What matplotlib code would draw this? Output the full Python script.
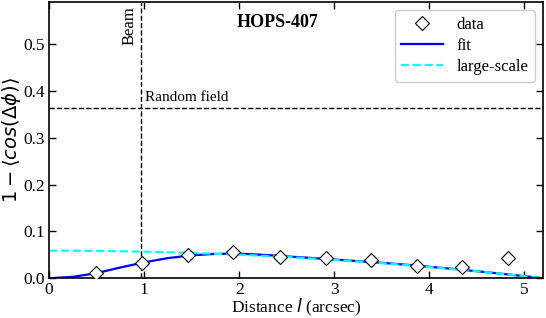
import numpy as np
import matplotlib
matplotlib.use('Agg')
import matplotlib.pyplot as plt

plt.rcParams['font.family'] = 'Liberation Serif'
plt.rcParams['mathtext.fontset'] = 'dejavusans'

# data points
l_data = [0.49, 0.98, 1.46, 1.94, 2.43, 2.91, 3.39, 3.87, 4.35, 4.83]
y_data = [0.012, 0.033, 0.050, 0.055, 0.046, 0.043, 0.038, 0.027, 0.025, 0.043]

# fit curve
l_fit = [0.0, 0.25, 0.5, 0.75, 1.0, 1.25, 1.5, 1.75, 2.0, 2.25, 2.5, 2.75,
         3.0, 3.25, 3.5, 3.75, 4.0, 4.25, 4.5, 4.75, 5.0, 5.2]
y_fit = [0.0, 0.003, 0.011, 0.023, 0.034, 0.043, 0.049, 0.052, 0.0525, 0.050,
         0.0465, 0.0435, 0.040, 0.0365, 0.033, 0.029, 0.0245, 0.020, 0.015,
         0.0098, 0.0045, 0.0]

# large-scale component
l_ls = [0.0, 0.5, 1.0, 1.5, 2.0, 2.5, 3.0, 3.5, 4.0, 4.5, 5.0, 5.2]
y_ls = [0.059, 0.0585, 0.0568, 0.0541, 0.0503, 0.0454, 0.0394, 0.0323,
        0.0241, 0.0149, 0.0045, 0.0]

beam = 0.97
random_field = 0.363

fig = plt.figure(figsize=(5.46, 3.18), dpi=100)
ax = fig.add_axes([0.09, 0.125, 0.905, 0.869])

ax.plot(l_data, y_data, linestyle='none', marker='D', markersize=7,
        markerfacecolor='white', markeredgecolor='black', markeredgewidth=0.8,
        label='data', zorder=5)
ax.plot(l_fit, y_fit, color='blue', lw=1.6, label='fit')
ax.plot(l_ls, y_ls, color='cyan', lw=1.6, ls='--', label='large-scale')

ax.axvline(beam, color='black', ls='--', lw=1)
ax.axhline(random_field, color='black', ls='--', lw=1)
ax.text(beam - 0.04, 0.58, 'Beam', rotation=90, ha='right', va='top', fontsize=12)
ax.text(beam + 0.04, random_field + 0.008, 'Random field', ha='left', va='bottom', fontsize=11)
ax.text(2.4, 0.545, 'HOPS-407', ha='center', va='center', fontsize=13, fontweight='bold')

ax.set_xlim(0, 5.2)
ax.set_ylim(0, 0.59)
ax.set_yticks([0.0, 0.1, 0.2, 0.3, 0.4, 0.5])
ax.set_xticks([0, 1, 2, 3, 4, 5])

ax.tick_params(axis='both', which='major', direction='in', top=True, right=True,
               length=5, width=1, labelsize=12.5, pad=3)
for s in ax.spines.values():
    s.set_linewidth(1.2)

ax.set_xlabel(r'Distance $\it{l}$ (arcsec)', fontsize=12.5, labelpad=-1)
ax.set_ylabel(r'$1-\langle cos(\Delta\phi)\rangle$', fontsize=14)
ax.yaxis.set_label_coords(-0.053, 0.5)

ax.legend(loc='upper right', fontsize=12, frameon=True, framealpha=1,
          handlelength=2.5, borderpad=0.4, labelspacing=0.3)

fig.savefig('out.png', dpi=100)
plt.close()
